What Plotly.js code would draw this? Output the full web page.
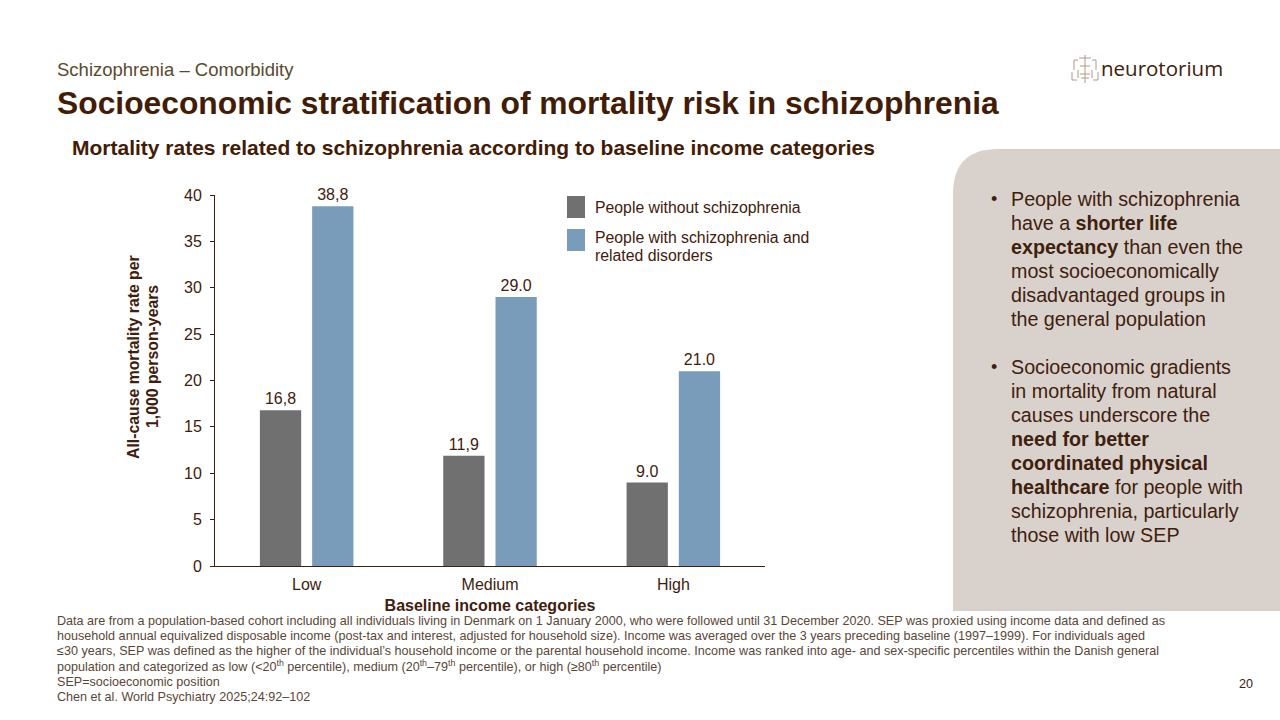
<!DOCTYPE html>
<html>
<head>
<meta charset="utf-8">
<script src="https://cdn.plot.ly/plotly-3.0.1.min.js"></script>
<style>
html,body{margin:0;padding:0;background:#fff;}
#chart{width:1280px;height:720px;}
</style>
</head>
<body>
<div id="chart"></div>
<script>
// ---- data ----
const categories = ["Low", "Medium", "High"];
const withoutSchizophrenia = [16.8, 11.9, 9.0];
const withSchizophrenia = [38.8, 29.0, 21.0];
const labelsWithout = ["16,8", "11,9", "9.0"];
const labelsWith = ["38,8", "29.0", "21.0"];
const seriesNames = ["People without schizophrenia", "People with schizophrenia and related disorders"];
const legendLines = [["People without schizophrenia"], ["People with schizophrenia and", "related disorders"]];
const yTickValues = [0, 5, 10, 15, 20, 25, 30, 35, 40];

const supTitle = "Schizophrenia – Comorbidity";
const mainTitle = "Socioeconomic stratification of mortality risk in schizophrenia";
const chartTitle = "Mortality rates related to schizophrenia according to baseline income categories";
const yTitleLines = ["All-cause mortality rate per", "1,000 person-years"];
const xTitle = "Baseline income categories";
const bullet1 = ["People with schizophrenia", "have a <b>shorter life</b>", "<b>expectancy</b> than even the",
  "most socioeconomically", "disadvantaged groups in", "the general population"];
const bullet2 = ["Socioeconomic gradients", "in mortality from natural", "causes underscore the",
  "<b>need for better</b>", "<b>coordinated physical</b>", "<b>healthcare</b> for people with",
  "schizophrenia, particularly", "those with low SEP"];
const footLines = [
  "Data are from a population-based cohort including all individuals living in Denmark on 1 January 2000, who were followed until 31 December 2020. SEP was proxied using income data and defined as",
  "household annual equivalized disposable income (post-tax and interest, adjusted for household size). Income was averaged over the 3 years preceding baseline (1997–1999). For individuals aged",
  "≤30 years, SEP was defined as the higher of the individual’s household income or the parental household income. Income was ranked into age- and sex-specific percentiles within the Danish general",
  "population and categorized as low (&lt;20<sup>th</sup> percentile), medium (20<sup>th</sup>–79<sup>th</sup> percentile), or high (≥80<sup>th</sup> percentile)",
  "SEP=socioeconomic position",
  "Chen et al. World Psychiatry 2025;24:92–102"
];

// ---- layout geometry (pixels) ----
const L = 215, R = 765, T = 195, B = 566;
const W = R - L, H = B - T;
const px = x => (x - L) / W;
const py = y => (B - y) / H;

const dark = "#3f200c";
const FONT = "Liberation Sans, Arial, sans-serif";

const traces = [
  {type: "bar", x: categories, y: withoutSchizophrenia, name: seriesNames[0],
   marker: {color: "#707070"}, text: labelsWithout, textposition: "outside",
   textfont: {size: 16, color: dark, family: FONT}, cliponaxis: false, showlegend: false, hoverinfo: "x+y"},
  {type: "bar", x: categories, y: withSchizophrenia, name: seriesNames[1],
   marker: {color: "#7a9cbb"}, text: labelsWith, textposition: "outside",
   textfont: {size: 16, color: dark, family: FONT}, cliponaxis: false, showlegend: false, hoverinfo: "x+y"}
];

const ann = [];
function addText(text, x, y, size, color, opts) {
  ann.push(Object.assign({text: text, x: px(x - 2), y: py(y), xref: "paper", yref: "paper",
    xanchor: "left", yanchor: "middle", showarrow: false,
    font: {size: size, color: color, family: FONT}}, opts || {}));
}
addText(supTitle, 57, 69, 18.5, "#5a4a2c");
addText("<b>" + mainTitle + "</b>", 57, 103, 31.8, "#431c05");
addText("<b>" + chartTitle + "</b>", 72, 147, 21, "#431c05");
addText("neurotorium", 1101, 68, 20.5, "#3f200c", {font: {size: 20.5, color: "#3f200c", family: "Open Sans, sans-serif"}});

// legend (custom)
addText(legendLines[0][0], 595, 208, 15.8, dark);
addText(legendLines[1][0], 595, 237, 15.8, dark);
addText(legendLines[1][1], 595, 255, 15.8, dark);

// y axis title (two lines)
yTitleLines.forEach((t, i) => ann.push({text: "<b>" + t + "</b>", x: px(133 + i * 19), y: py(357),
  xref: "paper", yref: "paper", xanchor: "center", yanchor: "middle", textangle: -90, showarrow: false,
  font: {size: 15.8, color: dark, family: FONT}}));

// panel bullets
function addBullet(lines, y0) {
  addText("•", 991, y0, 18, dark);
  lines.forEach((l, i) => addText(l, 1011, y0 + i * 24, 19.7, dark));
}
addBullet(bullet1, 199);
addBullet(bullet2, 367);

// footnote
footLines.forEach((l, i) => addText(l, 57, 621 + i * 15.2, 12.6, "#5b4636",
  l.indexOf("<sup>") >= 0 ? {yshift: 1} : {}));
addText("20", 1239, 684, 12.6, "#3f200c");

// shapes
const shapes = [];
// panel with rounded top-left
const x0 = 953, x1 = 1282, y0 = 149, y1 = 611, r = 45;
shapes.push({type: "path", xref: "paper", yref: "paper", layer: "below",
  path: `M ${px(x0)},${py(y1)} L ${px(x0)},${py(y0 + r)} Q ${px(x0)},${py(y0)} ${px(x0 + r)},${py(y0)} L ${px(x1)},${py(y0)} L ${px(x1)},${py(y1)} Z`,
  fillcolor: "#d9d2cc", line: {width: 0}});
// legend squares
shapes.push({type: "rect", xref: "paper", yref: "paper", x0: px(567), x1: px(585), y0: py(196), y1: py(218),
  fillcolor: "#707070", line: {width: 0}});
shapes.push({type: "rect", xref: "paper", yref: "paper", x0: px(567), x1: px(585), y0: py(229), y1: py(251),
  fillcolor: "#7a9cbb", line: {width: 0}});
// logo icon
const ic = "#b49888";
const segs = [
  [1085, 55, 1085, 83], [1079, 58, 1091, 58], [1080, 66, 1090, 66], [1080, 74, 1090, 74],
  [1074, 60, 1074, 70], [1074, 60, 1078, 60], [1096, 60, 1096, 70], [1092, 60, 1096, 60],
  [1072, 72, 1072, 80], [1072, 80, 1077, 80], [1098, 72, 1098, 80], [1093, 80, 1098, 80],
  [1078, 70, 1078, 78], [1092, 70, 1092, 78], [1081, 78, 1089, 78]
];
segs.forEach(s => shapes.push({type: "line", xref: "paper", yref: "paper",
  x0: px(s[0]), y0: py(s[1]), x1: px(s[2]), y1: py(s[3]), line: {color: ic, width: 1}}));

const layout = {
  width: 1280, height: 720,
  margin: {l: L, r: 1280 - R, t: T, b: 720 - B, pad: 0},
  paper_bgcolor: "#ffffff", plot_bgcolor: "#ffffff",
  font: {family: FONT, color: dark, size: 16},
  barmode: "group", bargap: 0.43, bargroupgap: 0.21,
  showlegend: false,
  xaxis: {type: "category", range: [-0.5, 2.5], showline: true, linecolor: "#3f200c", linewidth: 1,
    ticks: "", showgrid: false, zeroline: false, tickfont: {size: 16, color: dark, family: FONT},
    ticklabelstandoff: 4,
    title: {text: "<b>" + xTitle + "</b>", font: {size: 16, color: dark, family: FONT}, standoff: 7},
    fixedrange: true},
  yaxis: {range: [0, 40], tickvals: yTickValues, showline: true, linecolor: "#3f200c", linewidth: 1,
    ticks: "outside", ticklen: 4, tickcolor: "#3f200c", showgrid: false, zeroline: false,
    ticklabelstandoff: 5,
    tickfont: {size: 16, color: dark, family: FONT}, fixedrange: true},
  annotations: ann,
  shapes: shapes
};

Plotly.newPlot("chart", traces, layout, {displayModeBar: false, staticPlot: true});
</script>
</body>
</html>
